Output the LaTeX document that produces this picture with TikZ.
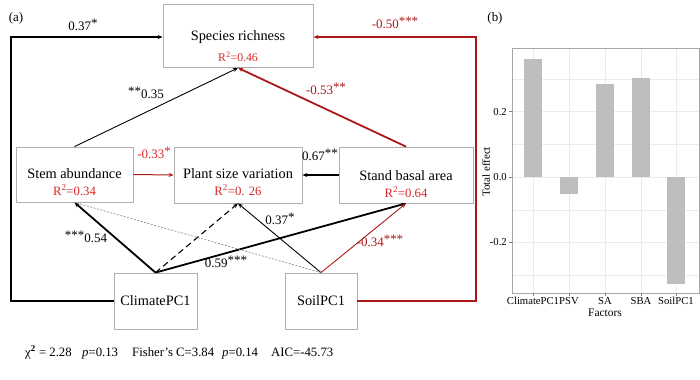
\documentclass[tikz,border=0pt]{standalone}
\usepackage{fontspec}
\setmainfont{Liberation Serif}
\usetikzlibrary{arrows.meta}
\definecolor{lred}{RGB}{172,24,24}
\definecolor{tred}{RGB}{214,40,40}
\definecolor{boxgray}{RGB}{175,175,175}
\definecolor{bargray}{RGB}{190,190,190}
\definecolor{gridgray}{RGB}{235,235,235}
\newcommand{\fs}[1]{\fontsize{#1}{#1}\selectfont}
\newcommand{\st}[1]{\raisebox{3.5bp}{#1}}
\tikzset{
  box/.style={draw=boxgray, line width=0.8bp, inner sep=0pt, font=\fs{14.4}},
  rsq/.style={text=tred, font=\fs{12.8}, inner sep=0pt},
  elab/.style={font=\fs{13}, inner sep=0pt},
  arr/.style={-{Stealth[length=5bp,width=4bp]}},
  thickarr/.style={arr, line width=1.8bp},
  thinarr/.style={arr, line width=0.9bp},
  ticklab/.style={font=\fs{10.7}, inner sep=0pt},
  stat/.style={font=\fs{12.8}, inner sep=0pt, anchor=base west},
}
\begin{document}
\begin{tikzpicture}[x=1bp,y=-1bp]
\useasboundingbox (0,0) rectangle (700,379);
% panel labels
\node[font=\fs{13}] (pa) at (16,18) {(a)};
\node[font=\fs{13}] (pb) at (495,18) {(b)};
% boxes
\node[box, minimum width=150bp, minimum height=63bp] (SR) at (238,36) {};
\node[box, minimum width=117bp, minimum height=55bp] (SA) at (74.5,174.5) {};
\node[box, minimum width=128bp, minimum height=56bp] (PSV) at (238,175) {};
\node[box, minimum width=134bp, minimum height=56bp] (SBA) at (406,175) {};
\node[box, minimum width=83bp, minimum height=56bp] (CL) at (155.5,301) {ClimatePC1};
\node[box, minimum width=72bp, minimum height=56bp] (SO) at (321,301) {SoilPC1};
% box texts
\node[font=\fs{14.4}, inner sep=0pt] (SRt) at (238,37) {Species richness};
\node[font=\fs{14.4}, inner sep=0pt] (SAt) at (74.5,174) {Stem abundance};
\node[font=\fs{14.4}, inner sep=0pt] (PSVt) at (238,174) {Plant size variation};
\node[font=\fs{14.4}, inner sep=0pt] (SBAt) at (406,176) {Stand basal area};
\node[rsq, font=\fs{11.8}] (SRr) at (238,57) {R\textsuperscript{2}=0.46};
\node[rsq] (SAr) at (74.5,190) {R\textsuperscript{2}=0.34};
\node[rsq] (PSVr) at (238,190) {R\textsuperscript{2}=0. 26};
\node[rsq] (SBAr) at (406,192) {R\textsuperscript{2}=0.64};
% feedback lines
\coordinate (lc) at (11,37);
\coordinate (rc) at (476,37);
\draw[thinarr, line width=1.2bp] (CL.west) -| (lc) -- (SR.west |- lc);
\draw[arr, lred, line width=1.8bp] (SO.east) -| (rc) -- (SR.east |- rc);
% paths
\draw[thinarr] (SA.north) -- (SR.south);
\draw[arr, lred, line width=1.8bp] (SBA.north) -- (SR.south);
\draw[arr, lred, line width=1bp] (SA.east) -- (PSV.west);
\draw[thickarr] (SBA.west) -- (PSV.east);
\draw[thickarr] (CL.north) -- (SA.south);
\draw[arr, line width=1.1bp, dash pattern=on 6bp off 4bp] (CL.north) -- (PSV.south);
\draw[thickarr] (CL.north) -- (SBA.south);
\draw[thinarr] (SO.north) -- (PSV.south);
\draw[arr, lred, line width=0.9bp] (SO.north) -- (SBA.south);
\draw[gray, line width=0.6bp, dash pattern=on 2bp off 1.5bp] (SO.north) -- (SA.south);
% edge labels
\node[elab] (l1) at (83,25) {0.37\st{*}};
\node[elab, text=lred] (l2) at (395,23) {-0.50\st{***}};
\node[elab] (l3) at (146,93) {\st{**}0.35};
\node[elab, text=lred] (l4) at (326,89) {-0.53\st{**}};
\node[elab, text=tred] (l5) at (154,153) {-0.33\st{*}};
\node[elab] (l6) at (320,155) {0.67\st{**}};
\node[elab] (l7) at (86,237) {\st{***}0.54};
\node[elab] (l8) at (226,262) {0.59\st{***}};
\node[elab] (l9) at (280,219) {0.37\st{*}};
\node[elab, text=lred] (l10) at (380,241) {-0.34\st{***}};
% statistics
\node[stat] (s1) at (25,356) {χ\textsuperscript{\textbf{2}} = 2.28};
\node[stat] (s2) at (82,356) {\textit{p}=0.13};
\node[stat] (s3) at (132,356) {Fisher’s C=3.84};
\node[stat] (s4) at (222,356) {\textit{p}=0.14};
\node[stat] (s5) at (271,356) {AIC=-45.73};
% panel (b)
\fill[white] (512,48) rectangle (699,293);
\foreach \v in {-0.3,-0.1,0.1,0.3} {\draw[gridgray, line width=0.4bp] (512,177-327*\v) -- (699,177-327*\v);}
\foreach \v in {-0.2,0,0.2} {\draw[gridgray, line width=0.8bp] (512,177-327*\v) -- (699,177-327*\v);}
\foreach \x in {533,569,605,641,676} {\draw[gridgray, line width=0.8bp] (\x,48) -- (\x,293);}
\fill[bargray] (524,177) rectangle (542,59);
\fill[bargray] (560,177) rectangle (578,194);
\fill[bargray] (596,177) rectangle (614,84);
\fill[bargray] (632,177) rectangle (650,78);
\fill[bargray] (667,177) rectangle (685,284);
\draw[gray!70, line width=0.7bp] (512,48) rectangle (699,293);
\foreach \v/\t in {0.2/0.2,0/0.0,-0.2/-0.2} {
  \draw[gray, line width=0.6bp] (509,177-327*\v) -- (512,177-327*\v);
  \node[ticklab, anchor=east] at (507,177-327*\v) {\t};
}
\foreach \x/\t in {533/ClimatePC1,569/PSV,605/SA,641/SBA,676/SoilPC1} {
  \draw[gray, line width=0.6bp] (\x,293) -- (\x,296);
  \node[ticklab, anchor=north] at (\x,297) {\t};
}
\node[font=\fs{11.5}, inner sep=0pt] (xt) at (605,313) {Factors};
\node[font=\fs{11}, inner sep=0pt, rotate=90] (yt) at (486,172) {Total effect};
\end{tikzpicture}
\end{document}
